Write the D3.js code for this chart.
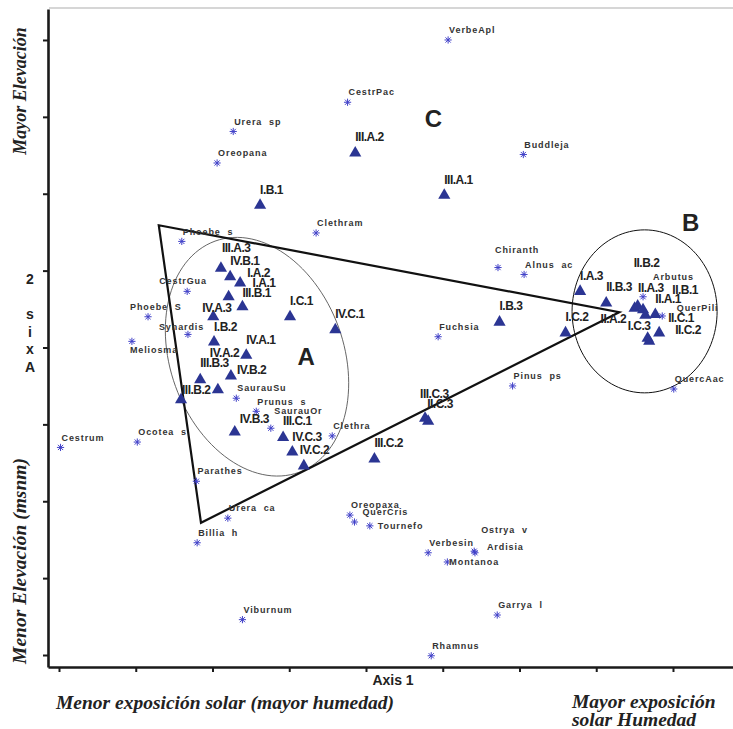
<!DOCTYPE html>
<html>
<head>
<meta charset="utf-8">
<script src="https://cdn.jsdelivr.net/npm/d3@7"></script>
<style>
  body { margin: 0; background: #fff; }
  svg text { font-family: "Liberation Sans", Arial, sans-serif; }
  .serif { font-family: "Liberation Serif", "Times New Roman", serif !important; font-style: italic; font-weight: bold; }
</style>
</head>
<body>
<svg id="chart" width="733" height="729"></svg>
<script>
// Site scores (triangles)
const siteNames = ["III.A.2","III.A.1","I.B.1","III.A.3","IV.B.1","I.A.2","I.A.1","III.B.1","IV.A.3","I.C.1",
  "IV.C.1","I.B.2","IV.A.1","IV.B.2","III.B.3","IV.A.2","III.B.2","IV.B.3","III.C.1","IV.C.3",
  "IV.C.2","III.C.3","II.C.3","III.C.2","I.B.3","I.C.2","I.A.3","II.B.3","II.A.2","II.B.2",
  "II.A.3","II.B.1","II.A.1","I.C.3","II.C.2","II.C.1"];
const siteX = [3.86,5.02,2.62,2.11,2.23,2.36,2.21,2.39,2.01,3.01,
  3.60,2.02,2.44,2.24,1.84,2.07,1.59,2.29,2.92,3.04,
  3.19,4.77,4.81,4.11,5.74,6.60,6.79,7.13,7.50,7.54,
  7.61,7.64,7.77,7.67,7.82,7.69];
const siteY = [6.53,5.98,5.85,5.03,4.92,4.84,4.66,4.53,4.40,4.40,
  4.23,4.07,3.90,3.63,3.58,3.45,3.32,2.90,2.83,2.64,
  2.46,3.08,3.04,2.55,4.33,4.19,4.73,4.58,4.51,4.54,
  4.49,4.42,4.43,4.12,4.19,4.08];

// Species scores (asterisks)
const speciesNames = ["VerbeApl","CestrPac","Urera  sp","Oreopana","Buddleja","Clethram","Phoebe  s","CestrGua",
  "Phoebe  S","Synardis","Meliosma","SaurauSu","Prunus  s","SaurauOr","Clethra","Fuchsia","Chiranth",
  "Alnus  ac","Pinus  ps","Arbutus","QuerPili","QuercAac","Cestrum","Ocotea  s","Parathes","Urera  ca",
  "Billia  h","Viburnum","Oreopaxa","QuerCris","Tournefo","Verbesin","Montanoa","Ardisia","Ostrya  v",
  "Garrya  l","Rhamnus"];
const speciesX = [5.07,3.76,2.27,2.06,6.05,3.35,1.60,1.67,
  1.16,1.68,0.95,2.31,2.57,2.76,3.56,4.94,5.72,
  6.06,5.91,7.61,7.86,8.01,0.02,1.02,1.79,2.20,
  1.80,2.39,3.79,3.85,4.05,4.81,5.06,5.42,5.41,
  5.71,4.85];
const speciesY = [8.00,7.19,6.81,6.40,6.51,5.49,5.38,4.73,
  4.40,4.17,4.08,3.34,3.17,2.95,2.85,4.14,5.04,
  4.95,3.50,4.66,4.41,3.46,2.70,2.77,2.26,1.78,
  1.46,0.46,1.82,1.73,1.68,1.33,1.21,1.33,1.35,
  0.52,-0.01];

// Axis ticks (unlabelled)
const xTicks = [0,1,2,3,4,5,6,7,8];
const yTicks = [0,1,2,3,4,5,6,7,8];

// Group envelopes
const hullX = [1.30, 7.30, 1.85];
const hullY = [5.59, 4.46, 1.72];
const ellipseA = {cx: 2.58, cy: 3.88, rx: 1.13, ry: 1.60, tilt: 20};
const ellipseB = {cx: 7.63, cy: 4.47, rx: 0.945, ry: 1.06, tilt: 0};
const groupLetters = ["A","B","C"];
const groupX = [3.22, 8.23, 4.88];
const groupY = [3.88, 5.63, 6.98];

// Hand-placed label nudges (pixels) where the default spot collides
const siteLabelNudge = {
  "III.A.3":[1,-21], "I.A.2":[7,-10], "I.A.1":[24,-14], "III.B.1":[0,-14], "IV.A.3":[-11,-9],
  "IV.B.2":[6,-6], "III.B.3":[0,-17], "IV.A.2":[-8,-37], "III.B.2":[1,-10], "IV.B.3":[5,-14],
  "III.C.1":[0,-17], "IV.C.2":[-4,-16], "III.C.3":[-5,-25], "II.C.3":[-1,-18], "III.B.3":[0,-17],
  "I.B.3":[0,-17], "II.A.2":[-34,10], "II.B.2":[-4,-43], "II.A.3":[-5,-22], "II.B.1":[27,-26],
  "II.C.1":[19,-24], "I.C.3":[-20,-13], "II.C.2":[16,-3]
};
const speciesLabelNudge = {
  "CestrGua":[-28,-11], "Phoebe  S":[-18,-10], "Synardis":[-29,-8], "Meliosma":[-2,8],
  "SaurauOr":[3.5,-17], "Chiranth":[-3,-17.5], "Arbutus":[10,-20], "QuerPili":[14.5,-8],
  "QuerCris":[8,-10], "Tournefo":[8,0], "Montanoa":[2,0], "Ardisia":[12,-5.5], "Ostrya  v":[7,-21]
};

const svg = d3.select("#chart");
const x = d3.scaleLinear().domain([-0.1434, 8.782]).range([48, 733]);
const y = d3.scaleLinear().domain([-0.156, 8.403]).range([667, 9]);

// top frame line
svg.append("line")
  .attr("x1", x(x.domain()[0]) + 1).attr("x2", x(x.domain()[1]))
  .attr("y1", y(y.domain()[1]) - 1).attr("y2", y(y.domain()[1]) - 1)
  .attr("stroke", "#c8c8c8").attr("stroke-width", 1.5);

// axes
const gx = svg.append("g").attr("transform", `translate(0,${y(y.domain()[0])})`)
  .call(d3.axisBottom(x).tickValues(xTicks).tickSize(5).tickSizeOuter(0).tickFormat(""));
const gy = svg.append("g").attr("transform", `translate(${x(x.domain()[0])},0)`)
  .call(d3.axisLeft(y).tickValues(yTicks).tickSize(5).tickSizeOuter(0).tickFormat(""));
[gx, gy].forEach(g => {
  g.select(".domain").attr("stroke", "#1a1a1a").attr("stroke-width", 2.6);
  g.selectAll(".tick line").attr("stroke", "#1a1a1a").attr("stroke-width", 2);
});

// ellipses
function ellipsePath(e) {
  const a = e.tilt * Math.PI / 180;
  const pts = d3.range(0, 361, 3).map(deg => {
    const t = deg * Math.PI / 180;
    const u = e.rx * Math.cos(t), v = e.ry * Math.sin(t);
    return [x(e.cx + u * Math.cos(a) - v * Math.sin(a)), y(e.cy + u * Math.sin(a) + v * Math.cos(a))];
  });
  return d3.line().curve(d3.curveLinearClosed)(pts);
}
svg.append("path").attr("d", ellipsePath(ellipseA))
  .attr("fill", "none").attr("stroke", "#555").attr("stroke-width", 0.9);
svg.append("path").attr("d", ellipsePath(ellipseB))
  .attr("fill", "none").attr("stroke", "#111").attr("stroke-width", 1);

// hull triangle
svg.append("path")
  .attr("d", d3.line().curve(d3.curveLinearClosed)(hullX.map((v, i) => [x(v), y(hullY[i])])))
  .attr("fill", "none").attr("stroke", "#111").attr("stroke-width", 2.2).attr("stroke-linejoin", "miter");

// species asterisks
const star = "M0,-3.6V3.6M-3.6,0H3.6M-2.6,-2.6L2.6,2.6M-2.6,2.6L2.6,-2.6";
const sp = svg.append("g");
speciesNames.forEach((n, i) => {
  sp.append("path").attr("d", star)
    .attr("transform", `translate(${x(speciesX[i])},${y(speciesY[i])})`)
    .attr("stroke", "#4040c8").attr("stroke-width", 1).attr("fill", "none");
});
speciesNames.forEach((n, i) => {
  const d = speciesLabelNudge[n] || [1, -10];
  sp.append("text").text(n)
    .attr("x", x(speciesX[i]) + d[0]).attr("y", y(speciesY[i]) + d[1] + 3.2)
    .style("white-space", "pre")
    .attr("font-size", 9).attr("font-weight", "bold").attr("letter-spacing", 0.9)
    .attr("fill", "#333");
});

// sites
const tri = d3.symbol().type(d3.symbolTriangle).size(64)();
const st = svg.append("g");
siteNames.forEach((n, i) => {
  st.append("path").attr("d", tri)
    .attr("transform", `translate(${x(siteX[i])},${y(siteY[i])})`)
    .attr("fill", "#2b3593");
});
siteNames.forEach((n, i) => {
  const d = siteLabelNudge[n] || [0, -16];
  st.append("text").text(n)
    .attr("x", x(siteX[i]) + d[0]).attr("y", y(siteY[i]) + d[1] + 4.5)
    .attr("font-size", 12).attr("font-weight", "bold").attr("letter-spacing", -0.5)
    .attr("fill", "#222");
});

// group letters
groupLetters.forEach((g, i) => {
  svg.append("text").text(g)
    .attr("x", x(groupX[i])).attr("y", y(groupY[i]) + 8.5)
    .attr("text-anchor", "middle").attr("font-size", 24).attr("font-weight", "bold")
    .attr("fill", "#222");
});

// axis titles
svg.append("text").text("Axis 1").attr("x", 393).attr("y", 685)
  .attr("text-anchor", "middle").attr("font-size", 14).attr("font-weight", "bold").attr("fill", "#222");
const ax2 = svg.append("text").attr("text-anchor", "middle").attr("font-size", 14)
  .attr("font-weight", "bold").attr("fill", "#222");
["2", "", "s", "i", "x", "A"].forEach((c, i) => {
  ax2.append("tspan").attr("x", 30).attr("y", 284 + i * 17.6).text(c);
});

// direction captions
svg.append("text").attr("class", "serif").text("Mayor Elevación")
  .attr("transform", "translate(26,91) rotate(-90)").attr("text-anchor", "middle").attr("font-size", 18).attr("fill", "#222");
svg.append("text").attr("class", "serif").text("Menor Elevación (msnm)")
  .attr("transform", "translate(26,561) rotate(-90)").attr("text-anchor", "middle").attr("font-size", 19.5).attr("fill", "#222");
svg.append("text").attr("class", "serif").text("Menor exposición solar (mayor humedad)")
  .attr("x", 56).attr("y", 709).attr("font-size", 19.5).attr("fill", "#222");
svg.append("text").attr("class", "serif").text("Mayor exposición")
  .attr("x", 572).attr("y", 708).attr("font-size", 19.5).attr("fill", "#222");
svg.append("text").attr("class", "serif").text("solar Humedad")
  .attr("x", 572).attr("y", 726).attr("font-size", 19.5).attr("fill", "#222");
</script>
</body>
</html>
